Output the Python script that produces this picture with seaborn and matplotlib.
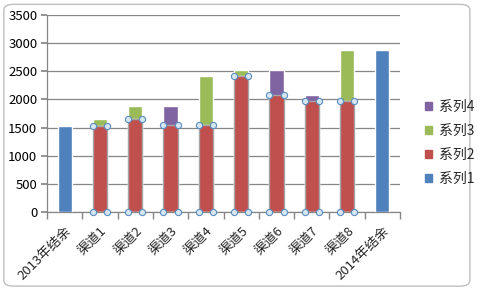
import matplotlib
matplotlib.use("Agg")
import matplotlib.pyplot as plt
import seaborn as sns
import pandas as pd
import numpy as np
from matplotlib.patches import FancyBboxPatch, Patch

categories = ["2013年结余", "渠道1", "渠道2", "渠道3", "渠道4", "渠道5", "渠道6", "渠道7", "渠道8", "2014年结余"]
series1 = [1530, 0, 0, 0, 0, 0, 0, 0, 0, 2870]
series2 = [0, 1530, 1660, 1550, 1550, 2420, 2080, 1980, 1980, 0]
series3 = [0, 130, 230, 0, 870, 110, 0, 0, 890, 0]
series4 = [0, 0, 0, 340, 0, 0, 450, 100, 0, 0]
series_names = ["系列1", "系列2", "系列3", "系列4"]
yticks = [0, 500, 1000, 1500, 2000, 2500, 3000, 3500]

c1, c2, c3, c4 = "#4F81BD", "#C0504D", "#9BBB59", "#8064A2"

sns.set_theme(style="white")
plt.rcParams["font.family"] = ["Noto Sans CJK SC", "DejaVu Sans"]

df = pd.DataFrame({"cat": categories, "s1": series1, "s2": series2,
                   "s3": series3, "s4": series4})
df["top3"] = df["s2"] + df["s3"]
df["top4"] = df["s2"] + df["s4"]

fig = plt.figure(figsize=(4.78, 2.89), dpi=100)
fig.patch.set_facecolor("white")
ax = fig.add_axes([47/478, 1-212/289, (400-47)/478, (212-15)/289])

kw = dict(x="cat", order=categories, width=0.4, saturation=1, errorbar=None, ax=ax, zorder=3)
sns.barplot(data=df, y="top3", color=c3, **kw)
sns.barplot(data=df, y="top4", color=c4, **kw)
sns.barplot(data=df, y="s2", color=c2, edgecolor="#A6A6A6", linewidth=1.0, **kw)
sns.barplot(data=df, y="s1", color=c1, **kw)

# selection handles at red bar corners
pos = np.arange(len(categories))
s2 = np.array(series2)
mask = s2 > 0
hx = np.concatenate([pos[mask]-0.2, pos[mask]+0.2, pos[mask]-0.2, pos[mask]+0.2])
hy = np.concatenate([s2[mask], s2[mask], np.zeros(mask.sum()), np.zeros(mask.sum())])
ax.scatter(hx, hy, s=20, facecolor="#D6E6F2", edgecolor="#5B8CC0", linewidth=0.8,
           zorder=5, clip_on=False)

ax.set_xlim(-0.5, len(categories)-0.5)
ax.set_ylim(0, 3500)
ax.set_yticks(yticks)
ax.set_yticklabels([str(v) for v in yticks], fontsize=9.5, color="black")
ax.yaxis.grid(True, color="#868686", linewidth=0.9, zorder=0)
ax.set_axisbelow(True)
ax.set_xlabel("")
ax.set_ylabel("")

for sp in ["top", "right"]:
    ax.spines[sp].set_visible(False)
for sp in ["left", "bottom"]:
    ax.spines[sp].set_color("#868686")
    ax.spines[sp].set_linewidth(0.9)

ax.tick_params(axis="y", which="major", length=4, color="#868686", left=True, pad=3)
ax.set_xticks(pos)
ax.set_xticklabels(categories, rotation=45, ha="right", rotation_mode="anchor", fontsize=9.5)
ax.tick_params(axis="x", which="major", length=0, pad=9)
ax.set_xticks(np.arange(-0.5, len(categories), 1.0), minor=True)
ax.tick_params(axis="x", which="minor", length=5, color="#868686", bottom=True)

handles = [Patch(color=c4, label=series_names[3]), Patch(color=c3, label=series_names[2]),
           Patch(color=c2, label=series_names[1]), Patch(color=c1, label=series_names[0])]
fig.legend(handles=handles, loc="center left", bbox_to_anchor=(0.862, 0.505), frameon=False,
           fontsize=10, handlelength=0.55, handleheight=0.55, handletextpad=0.5, labelspacing=0.72)

frame = FancyBboxPatch((0.008, 0.01), 0.975, 0.975, boxstyle="round,pad=0,rounding_size=0.02",
                       transform=fig.transFigure, fill=False, edgecolor="#BFBFBF", linewidth=1.0)
fig.patches.append(frame)

fig.savefig("out.png", dpi=100)
